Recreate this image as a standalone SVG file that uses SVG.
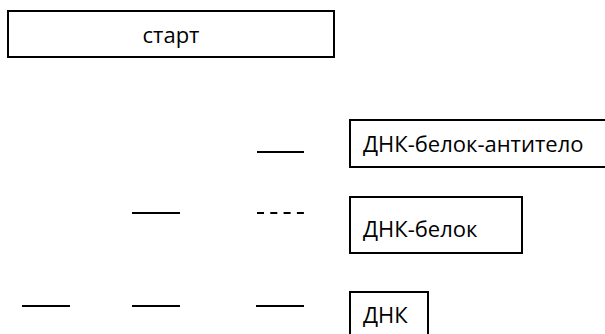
<svg xmlns="http://www.w3.org/2000/svg" width="605" height="334" viewBox="0 0 605 334">
  <style>
    .box { fill: #ffffff; stroke: #000000; stroke-width: 2; }
    .lbl { font-family: "Open Sans", "Liberation Sans", sans-serif; font-size: 22px; fill: #000000; }
    .seg { stroke: #000000; stroke-width: 2; fill: none; }
    .dash { stroke-dasharray: 7 6.3; }
  </style>
  <rect width="605" height="334" fill="#ffffff"/>

  <g id="start">
    <rect class="box" x="8" y="11" width="326" height="46"/>
    <text class="lbl" x="171" y="43" text-anchor="middle">старт</text>
  </g>

  <g id="dna-protein-antibody">
    <rect class="box" x="350" y="120" width="260" height="47"/>
    <text class="lbl" x="363" y="152">ДНК-белок-антитело</text>
  </g>

  <g id="dna-protein">
    <rect class="box" x="350" y="197" width="172" height="56"/>
    <text class="lbl" x="363" y="237">ДНК-белок</text>
  </g>

  <g id="dna">
    <rect class="box" x="350" y="292" width="78" height="50"/>
    <text class="lbl" x="363" y="323">ДНК</text>
  </g>

  <g id="connectors">
    <line class="seg" x1="257" y1="152" x2="304" y2="152"/>
    <line class="seg" x1="132" y1="213" x2="180" y2="213"/>
    <line class="seg dash" x1="257" y1="213" x2="304" y2="213"/>
    <line class="seg" x1="22" y1="306" x2="70" y2="306"/>
    <line class="seg" x1="132" y1="306" x2="180" y2="306"/>
    <line class="seg" x1="256" y1="306" x2="304" y2="306"/>
  </g>
</svg>
